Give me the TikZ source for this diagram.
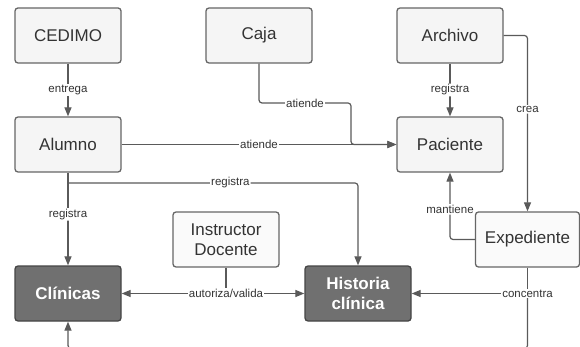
\documentclass[tikz,border=0pt]{standalone}
\usepackage{fontspec}
\setmainfont{Liberation Sans}
\usetikzlibrary{arrows.meta}
\definecolor{bordc}{HTML}{666666}
\definecolor{lightf}{HTML}{F5F5F5}
\definecolor{whitef}{HTML}{FAFAFA}
\definecolor{darkf}{HTML}{707070}
\definecolor{darkb}{HTML}{454545}
\definecolor{linec}{HTML}{5A5A5A}
\definecolor{textc}{HTML}{333333}
\tikzset{
  box/.style={draw=bordc, line width=1.3pt, fill=lightf, rounded corners=3pt,
    minimum width=106pt, minimum height=55pt, inner sep=1pt, align=center,
    font=\fontsize{17}{20}\selectfont, text=textc},
  wbox/.style={box, fill=whitef},
  dbox/.style={box, fill=darkf, draw=darkb, text=white, font=\fontsize{17}{20}\selectfont\bfseries},
  conn/.style={draw=linec, line width=1.2pt, rounded corners=3pt},
  arr/.style={conn, -{Triangle[length=9pt,width=7pt]}},
  lab/.style={fill=white, inner sep=1pt, font=\fontsize{11.5}{13}\selectfont, text=textc}
}
\begin{document}
\begin{tikzpicture}[x=1pt,y=-1pt]
\useasboundingbox (0,0) rectangle (580,347);
\clip (0,0) rectangle (580,347);
\fill[white] (0,0) rectangle (580,347);
% nodes
\node[box] (cedimo) at (68,35.5) {CEDIMO};
\node[box] (caja) at (259,35.5) {Caja};
\node[box] (archivo) at (450,35.5) {Archivo};
\node[box] (alumno) at (68,144.5) {Alumno};
\node[box] (paciente) at (450,144.5) {Paciente};
\node[wbox] (instr) at (226,239.5) {Instructor\\Docente};
\node[wbox, minimum width=104pt] (exped) at (527.5,239.5) {Expediente};
\node[dbox] (clin) at (68,293.5) {Clínicas};
\node[dbox] (hist) at (358,293.5) {Historia\\clínica};
% coordinates
\coordinate (cajaA) at (259,103);
\coordinate (cajaB) at (351,103);
\coordinate (cajaC) at (351,144.5);
\coordinate (alB) at (68,183);
\coordinate (alC) at (358,183);
\coordinate (arA) at (527.5,35.5);
\coordinate (exA) at (450,239.5);
\coordinate (inJ) at (226,293.5);
\coordinate (exJ) at (527.5,293.5);
\coordinate (bR) at (527.5,348.5);
\coordinate (bL) at (68,348.5);
% connectors
\draw[arr] (cedimo) -- node[lab]{entrega} (alumno);
\draw[arr] (alumno) -- node[lab, pos=0.5]{atiende} (paciente);
\draw[arr] (caja) |- node[lab, pos=0.75]{atiende} (cajaB) -- (cajaC) -- (paciente.west);
\draw[arr] (archivo) -- node[lab]{registra} (paciente);
\draw[arr] (archivo.east) -- (arA) -- node[lab, pos=0.42]{crea} (exped.north);
\draw[arr] (exped.west) -- (exA) -- node[lab, pos=0.45]{mantiene} (paciente.south);
\draw[arr] (alumno) -- node[lab, pos=0.45]{registra} (clin);
\draw[arr] (alB) -- node[lab, pos=0.56]{registra} (alC) -- (hist.north);
\draw[conn] (instr.south) -- (inJ);
\draw[arr] (inJ) -- (clin.east);
\draw[arr] (inJ) -- (hist.west);
\node[lab] at (inJ) {autoriza/valida};
\draw[conn] (exped.south) -- (exJ);
\draw[arr] (exJ) -- (hist.east);
\draw[arr] (exJ) -- (bR) -- (bL) -- (clin.south);
\node[lab] at (exJ) {concentra};
\end{tikzpicture}
\end{document}
